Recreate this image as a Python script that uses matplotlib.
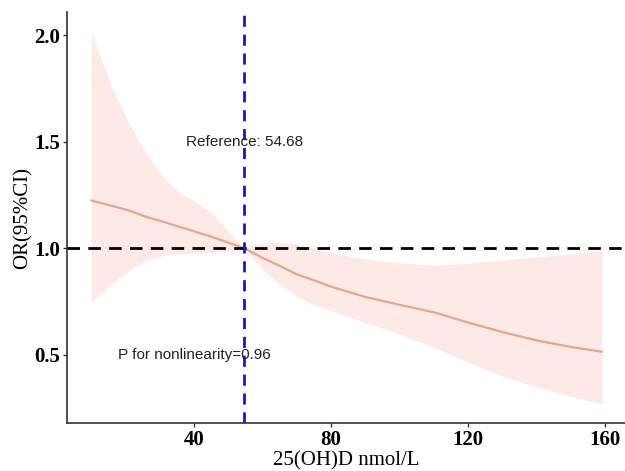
import matplotlib
matplotlib.use("Agg")
import matplotlib.pyplot as plt

# ── Data ──────────────────────────────────────────────────────────────────────
vitd  = [10, 16, 21, 26, 31, 36, 40, 45, 50, 54.68, 60, 65, 70, 75, 80,
         90, 100, 110, 120, 130, 140, 150, 159]
or_fit = [1.225, 1.20, 1.178, 1.148, 1.125, 1.10, 1.08, 1.055, 1.027, 1.0,
          0.955, 0.918, 0.878, 0.85, 0.82, 0.772, 0.735, 0.70, 0.652, 0.607,
          0.568, 0.537, 0.515]
ci_upper = [2.01, 1.757, 1.587, 1.445, 1.335, 1.257, 1.225, 1.17, 1.08, 1.0,
            1.025, 1.03, 1.02, 1.0, 0.98, 0.95, 0.932, 0.921, 0.93, 0.945,
            0.96, 0.975, 0.99]
ci_lower = [0.748, 0.834, 0.897, 0.944, 0.967, 0.975, 0.978, 0.98, 0.99, 1.0,
            0.90, 0.83, 0.775, 0.735, 0.708, 0.652, 0.598, 0.535, 0.465, 0.40,
            0.35, 0.305, 0.27]

ref_value = 54.68
p_nonlin = 0.96
x_ticks = [40, 80, 120, 160]
y_ticks = [0.5, 1.0, 1.5, 2.0]

_CURVE = "#eaa48c"
_BAND  = "#fdeae7"
_SPINE = "#333333"
_SERIF = "Liberation Serif"
_SANS  = "Liberation Sans"

fig = plt.figure(figsize=(6.25, 4.71), dpi=100)
ax = fig.add_axes([0.1072, 0.1019, 0.8928, 0.8726])

ax.fill_between(vitd, ci_lower, ci_upper, color=_BAND, linewidth=0, zorder=1)
ax.plot(vitd, or_fit, color=_CURVE, linewidth=1.6, zorder=2)

ax.axhline(1.0, color="black", linewidth=2, linestyle=(0, (4.5, 3)), zorder=3)
ax.axvline(ref_value, color="#1515d8", linewidth=2, linestyle=(0, (4, 2.8)), zorder=4)

ax.text(ref_value, 1.5, f"Reference: {ref_value:.2f}", ha="center", va="center",
        fontsize=11, family=_SANS, color="#222222", zorder=5)
ax.text(40, 0.5, f"P for nonlinearity={p_nonlin:.2f}", ha="center", va="center",
        fontsize=11, family=_SANS, color="#222222", zorder=5)

ax.set_xlim(2.9, 165.8)
ax.set_ylim(0.18, 2.11)
ax.set_xticks(x_ticks)
ax.set_xticklabels([str(t) for t in x_ticks], family=_SERIF, fontweight="bold", fontsize=15)
ax.set_yticks(y_ticks)
ax.set_yticklabels([f"{t:.1f}" for t in y_ticks], family=_SERIF, fontweight="bold", fontsize=15)
ax.tick_params(length=3, width=1, color=_SPINE, pad=2)

for side in ("top", "right"):
    ax.spines[side].set_visible(False)
for side in ("left", "bottom"):
    ax.spines[side].set_color(_SPINE)
    ax.spines[side].set_linewidth(1.2)

ax.set_xlabel("25(OH)D nmol/L", family=_SERIF, fontsize=15, labelpad=1)
ax.set_ylabel("OR(95%CI)", family=_SERIF, fontsize=15, labelpad=1)

fig.savefig("out.png", dpi=100, facecolor="white")
plt.close(fig)
